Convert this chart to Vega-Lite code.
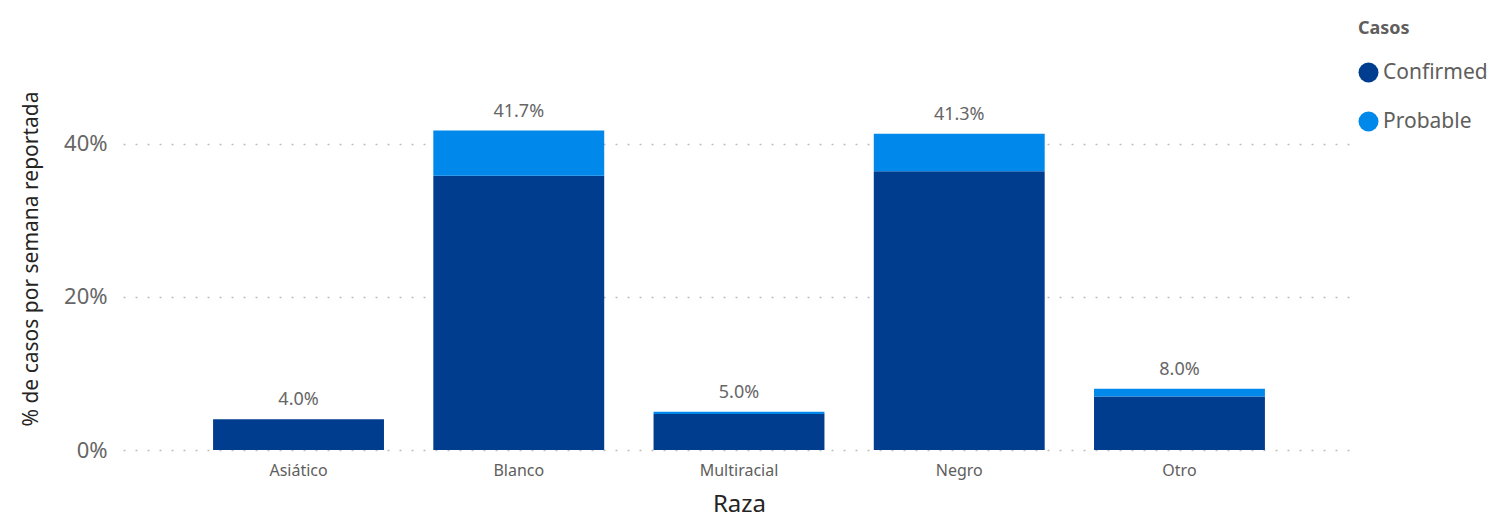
{
  "$schema": "https://vega.github.io/schema/vega-lite/v6.json",
  "width": 1232,
  "height": 383,
  "autosize": {"type": "none"},
  "padding": {"left": 123, "top": 67, "right": 144, "bottom": 68},
  "background": "white",
  "config": {
    "font": "Noto Sans",
    "view": {"stroke": null}
  },
  "data": {
    "values": [
      {"Raza": "Asiático", "Casos": "Confirmed", "value": 0.040},
      {"Raza": "Asiático", "Casos": "Probable", "value": 0.000},
      {"Raza": "Blanco", "Casos": "Confirmed", "value": 0.358},
      {"Raza": "Blanco", "Casos": "Probable", "value": 0.059},
      {"Raza": "Multiracial", "Casos": "Confirmed", "value": 0.047},
      {"Raza": "Multiracial", "Casos": "Probable", "value": 0.003},
      {"Raza": "Negro", "Casos": "Confirmed", "value": 0.364},
      {"Raza": "Negro", "Casos": "Probable", "value": 0.049},
      {"Raza": "Otro", "Casos": "Confirmed", "value": 0.070},
      {"Raza": "Otro", "Casos": "Probable", "value": 0.010}
    ]
  },
  "encoding": {
    "x": {
      "field": "Raza",
      "type": "nominal",
      "scale": {"paddingInner": 0.224, "paddingOuter": 0.409},
      "axis": {
        "title": "Raza",
        "titleFontSize": 24,
        "titleFontWeight": "normal",
        "titleColor": "#252423",
        "titlePadding": 14,
        "labelAngle": 0,
        "labelFontSize": 16,
        "labelColor": "#605E5C",
        "labelPadding": 12,
        "domain": false,
        "ticks": false,
        "grid": false
      }
    }
  },
  "layer": [
    {
      "mark": {"type": "bar"},
      "encoding": {
        "y": {
          "field": "value",
          "type": "quantitative",
          "aggregate": "sum",
          "stack": "zero",
          "scale": {"domain": [0, 0.5], "nice": false},
          "axis": {
            "title": "% de casos por semana reportada",
            "titleFontSize": 21,
            "titleFontWeight": "normal",
            "titleColor": "#252423",
            "titlePadding": 22,
            "values": [0, 0.2, 0.4],
            "format": ".0%",
            "labelFontSize": 22,
            "labelColor": "#666666",
            "labelPadding": 16,
            "domain": false,
            "ticks": false,
            "grid": true,
            "gridColor": "#BDBDBD",
            "gridDash": [2, 10],
            "gridWidth": 1.5
          }
        },
        "color": {
          "field": "Casos",
          "type": "nominal",
          "scale": {"domain": ["Confirmed", "Probable"], "range": ["#003D8F", "#0088EA"]},
          "legend": {
            "title": "Casos",
            "orient": "none",
            "legendX": 1235,
            "legendY": -47,
            "titleFontSize": 18,
            "titleFontWeight": "bold",
            "titleColor": "#605E5C",
            "titlePadding": 24,
            "labelFontSize": 21,
            "labelColor": "#605E5C",
            "labelOffset": 4,
            "symbolType": "circle",
            "symbolSize": 400,
            "symbolStrokeWidth": 0,
            "rowPadding": 27
          }
        },
        "order": {"field": "Casos", "sort": "ascending"}
      }
    },
    {
      "transform": [
        {"aggregate": [{"op": "sum", "field": "value", "as": "total"}], "groupby": ["Raza"]}
      ],
      "mark": {"type": "text", "baseline": "bottom", "dy": -10, "fontSize": 18, "color": "#666666"},
      "encoding": {
        "y": {"field": "total", "type": "quantitative"},
        "text": {"field": "total", "type": "quantitative", "format": ".1%"}
      }
    }
  ]
}
